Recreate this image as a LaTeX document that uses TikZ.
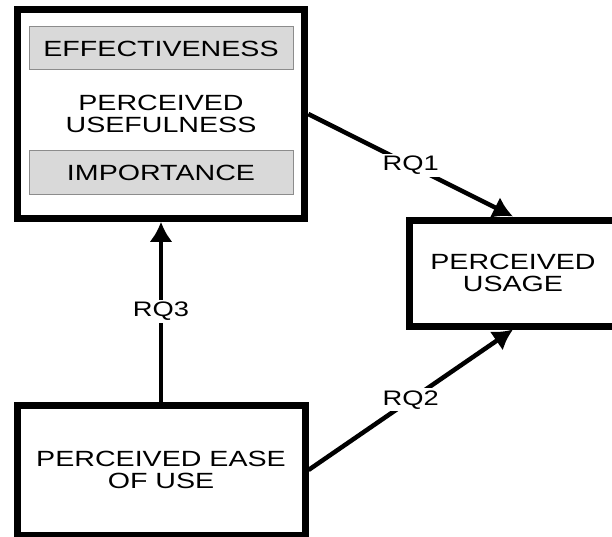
\documentclass[tikz,border=0pt]{standalone}
\usepackage{fontspec}
\newfontfamily\diagfont[FakeStretch=1.3]{Liberation Sans}
\usetikzlibrary{arrows.meta}
\tikzset{construct/.style={rectangle, draw, line width=7pt, align=center,
    font=\diagfont\fontsize{22}{22}\selectfont}}
\tikzset{factor/.style={rectangle, draw=black!45, line width=1pt, fill=black!15,
    minimum width=264pt, minimum height=43pt, inner sep=0pt,
    font=\diagfont\fontsize{22}{22}\selectfont}}
\tikzset{rq/.style={fill=white, inner sep=2pt,
    font=\diagfont\fontsize{21}{21}\selectfont}}

\begin{document}
\begin{tikzpicture}[x=1pt,y=-1pt]
    \useasboundingbox (0,0) rectangle (612,537);
    \node[construct, minimum width=287.5pt, minimum height=208.5pt] (pu) at (161,114)
      {PERCEIVED\\USEFULNESS};
    \node[factor] (eff) at (161,48.5) {EFFECTIVENESS};
    \node[factor, minimum height=44pt] (imp) at (161,173) {IMPORTANCE};
    \node[construct, minimum width=208pt, minimum height=106pt] (usage) at (513,273)
      {PERCEIVED\\USAGE};
    \node[construct, minimum width=288pt, minimum height=130pt] (ease) at (161,470)
      {PERCEIVED EASE\\OF USE};
    \foreach \from/\to/\lab in {
      pu.east/usage.north/RQ1,
      ease.east/usage.south/RQ2,
      ease.north/pu.south/RQ3%
    } {
      \draw[line width=4.5pt, -{Latex[length=20pt,width=23pt]}] (\from) -- node[rq] {\lab} (\to);
    }
  \end{tikzpicture}
\end{document}
